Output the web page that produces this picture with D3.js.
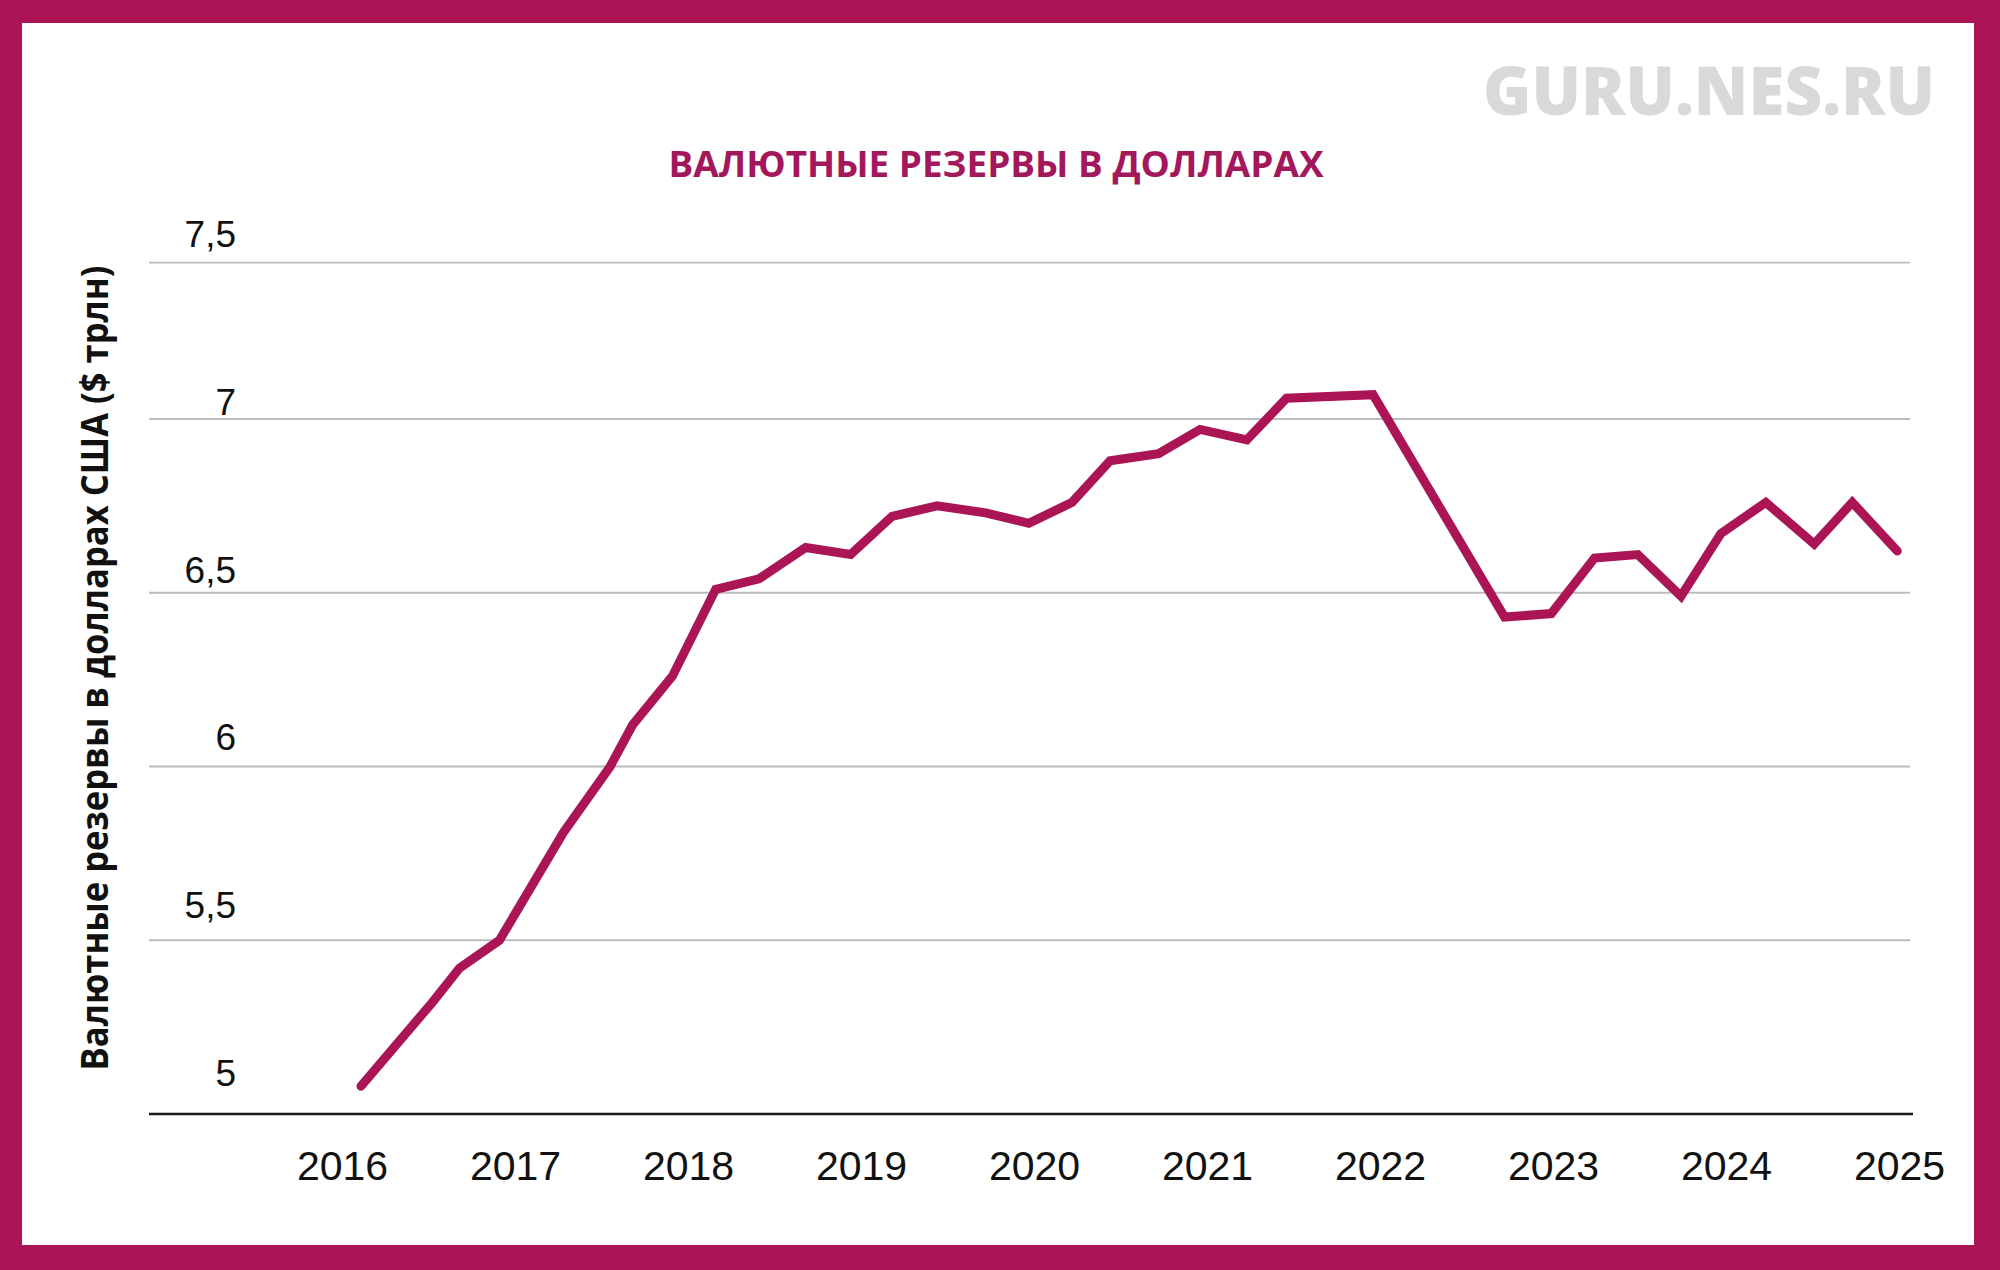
<!DOCTYPE html>
<html>
<head>
<meta charset="utf-8">
<script src="https://cdn.jsdelivr.net/npm/d3@7"></script>
<style>
  html, body { margin: 0; padding: 0; background: #fff; }
  svg { display: block; }
</style>
</head>
<body>
<div id="chart"></div>
<script>
const periods = [
  2016.11, 2016.52, 2016.68, 2016.91, 2017.28, 2017.55, 2017.68, 2017.91,
  2018.16, 2018.41, 2018.68, 2018.94, 2019.18, 2019.44, 2019.72, 2019.97,
  2020.22, 2020.44, 2020.72, 2020.96, 2021.23, 2021.46, 2021.96, 2022.72,
  2022.99, 2023.24, 2023.49, 2023.74, 2023.97, 2024.23, 2024.51, 2024.73,
  2024.99
];
// reserves, $ trillion
const reserves = [
  5.08, 5.32, 5.42, 5.50, 5.81, 6.00, 6.12, 6.26,
  6.51, 6.54, 6.63, 6.61, 6.72, 6.75, 6.73, 6.70,
  6.76, 6.88, 6.90, 6.97, 6.94, 7.06, 7.07, 6.43,
  6.44, 6.60, 6.61, 6.49, 6.67, 6.76, 6.64, 6.76,
  6.62
];
const years = [2016, 2017, 2018, 2019, 2020, 2021, 2022, 2023, 2024, 2025];
const yTickValues = [5, 5.5, 6, 6.5, 7, 7.5];
const yTickLabels = ["5", "5,5", "6", "6,5", "7", "7,5"];
// gridlines as drawn in the picture (top one sits a little below 7.5)
const gridValues = [5.5, 6, 6.5, 7, 7.45];

const title = "ВАЛЮТНЫЕ РЕЗЕРВЫ В ДОЛЛАРАХ";
const yTitle = "Валютные резервы в долларах США ($ трлн)";
const watermark = "GURU.NES.RU";

const width = 2000;
const height = 1270;
const accent = "#ab1556";

const data = periods.map((p, i) => ({ t: p, v: reserves[i] }));

const svg = (d3.select("#chart").append("svg")
             .attr("viewBox", [0, 0, width, height])
             .attr("width", width)
             .attr("height", height));

// frame
svg.append("rect")
  .attr("width", width)
  .attr("height", height)
  .attr("fill", accent);
svg.append("rect")
  .attr("x", 22)
  .attr("y", 23)
  .attr("width", 1952)
  .attr("height", 1222)
  .attr("fill", "#fff");

const plotLeft = 149;
const plotRight = 1910;

const x = (d3.scaleLinear()
           .domain([2016, 2025])
           .range([342, 1899]));

const y = (d3.scaleLinear()
           .domain([5, 7])
           .range([1114, 419]));

// the tick labels are spaced a bit differently from the gridlines
const yLabel = (d3.scaleLinear()
                .domain([5, 7.5])
                .range([1086, 247]));

// watermark + title
svg.append("text")
  .attr("x", 1935)
  .attr("y", 115)
  .attr("text-anchor", "end")
  .attr("font-family", "Open Sans, sans-serif")
  .attr("font-weight", 800)
  .attr("font-size", 68)
  .attr("fill", "#d9d9d9")
  .attr("textLength", 452)
  .attr("lengthAdjust", "spacingAndGlyphs")
  .text(watermark);

svg.append("text")
  .attr("x", 996)
  .attr("y", 177)
  .attr("text-anchor", "middle")
  .attr("font-family", "Open Sans, sans-serif")
  .attr("font-weight", 700)
  .attr("font-size", 35)
  .attr("fill", "#a3185c")
  .attr("textLength", 655)
  .attr("lengthAdjust", "spacingAndGlyphs")
  .text(title);

// gridlines
svg.append("g")
  .attr("stroke", "#bcbcbc")
  .attr("stroke-width", 1.8)
  .selectAll("line")
  .data(gridValues)
  .join("line")
  .attr("x1", plotLeft)
  .attr("x2", plotRight)
  .attr("y1", d => y(d))
  .attr("y2", d => y(d));

// y tick labels
svg.append("g")
  .attr("font-family", "Liberation Sans Narrow, Arial Narrow, sans-serif")
  .attr("font-size", 37)
  .attr("fill", "#111")
  .attr("text-anchor", "end")
  .selectAll("text")
  .data(yTickValues)
  .join("text")
  .attr("x", 236)
  .attr("y", d => yLabel(d))
  .text((d, i) => yTickLabels[i]);

// x axis
const xAxis = svg.append("g")
  .attr("transform", `translate(0,${y(5)})`)
  .call(d3.axisBottom(x)
        .tickValues(years)
        .tickFormat(d3.format("d"))
        .tickSize(0)
        .tickPadding(66));

xAxis.select(".domain").remove();
xAxis.selectAll("text")
  .attr("font-family", "Liberation Sans, Arial, sans-serif")
  .attr("font-size", 41)
  .attr("fill", "#111")
  .attr("dy", null);

svg.append("line")
  .attr("x1", plotLeft)
  .attr("x2", 1913)
  .attr("y1", y(5))
  .attr("y2", y(5))
  .attr("stroke", "#1a1a1a")
  .attr("stroke-width", 2.5);

// y axis title
svg.append("text")
  .attr("transform", `translate(108,668) rotate(-90)`)
  .attr("text-anchor", "middle")
  .attr("font-family", "Open Sans, sans-serif")
  .attr("font-weight", 700)
  .attr("font-size", 38)
  .attr("fill", "#111")
  .attr("textLength", 805)
  .attr("lengthAdjust", "spacingAndGlyphs")
  .text(yTitle);

// series
const line = (d3.line()
              .x(d => x(d.t))
              .y(d => y(d.v)));

svg.append("path")
  .datum(data)
  .attr("fill", "none")
  .attr("stroke", accent)
  .attr("stroke-width", 9)
  .attr("stroke-linecap", "round")
  .attr("stroke-linejoin", "miter")
  .attr("d", line);
</script>
</body>
</html>
